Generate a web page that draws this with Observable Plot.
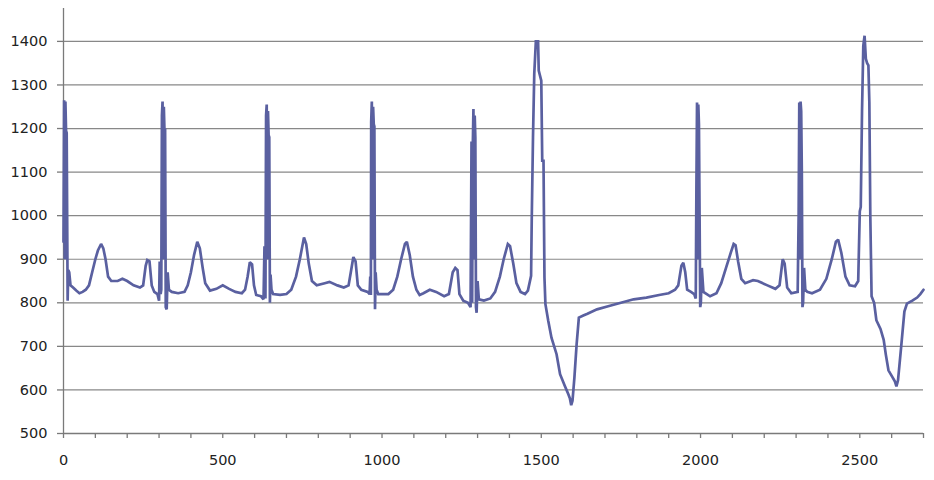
<!DOCTYPE html>
<html>
<head>
<meta charset="utf-8">
<script src="https://cdn.jsdelivr.net/npm/d3@7"></script>
<script src="https://cdn.jsdelivr.net/npm/@observablehq/plot@0.6"></script>
<style>
  html, body { margin: 0; padding: 0; background: #fff; }
  #chart svg { display: block; }
</style>
</head>
<body>
<div id="chart"></div>
<script>
// Sample index (x) and signal value (y)
const sampleX = [
  0, 2, 4, 6, 8, 10, 13, 15, 18, 22, 30, 40, 50, 60, 70, 80, 90, 100, 108, 118, 125, 132, 140, 150, 170, 185, 200, 220, 240, 250, 258, 263, 270, 277, 285, 295,
  300, 302, 305, 307, 309, 311, 313, 315, 317, 319, 321, 324, 327, 331, 340, 360, 380, 390, 400, 410, 420, 428, 437, 445, 460, 480, 500, 520, 540, 560, 570, 578, 585, 592, 598, 605, 620,
  628, 631, 634, 636, 638, 640, 642, 644, 646, 648, 650, 653, 658, 680, 700, 715, 730, 742, 755, 762, 770, 780, 795, 820, 835, 860, 880, 895, 902, 910, 917, 924, 935, 955,
  961, 963, 965, 966, 968, 970, 972, 974, 976, 978, 980, 983, 988, 1000, 1020, 1035, 1048, 1060, 1072, 1078, 1087, 1097, 1108, 1118, 1130, 1150, 1170, 1195, 1210, 1222, 1230, 1237, 1243, 1255, 1270,
  1278, 1281, 1283, 1285, 1287, 1289, 1291, 1293, 1295, 1297, 1300, 1304, 1320, 1340, 1355, 1370, 1382, 1395, 1402, 1412, 1422, 1435, 1449, 1458,
  1468, 1470, 1474, 1478, 1483, 1490, 1492, 1500, 1503, 1507, 1510, 1513, 1522, 1532, 1548, 1559, 1574, 1585, 1590, 1594, 1598, 1604, 1611, 1618, 1632,
  1645, 1675, 1710, 1750, 1790, 1830, 1870, 1900, 1920, 1930, 1940, 1946, 1952, 1958, 1970, 1980,
  1985, 1987, 1989, 1991, 1993, 1995, 1997, 1999, 2001, 2004, 2009, 2030, 2050, 2065, 2080, 2095, 2104, 2110, 2118, 2128, 2140, 2165, 2180, 2210, 2235, 2248, 2258, 2264, 2272, 2285,
  2305, 2308, 2310, 2312, 2314, 2316, 2318, 2320, 2322, 2325, 2329, 2335, 2350, 2375, 2395, 2412, 2425, 2432, 2442, 2455, 2468, 2485, 2495,
  2500, 2503, 2507, 2511, 2515, 2519, 2523, 2527, 2530, 2533, 2537, 2545, 2552, 2565, 2575, 2582, 2590, 2602, 2610, 2615, 2620, 2630, 2640, 2648, 2665, 2680, 2690, 2700
];
const sampleY = [
  940, 1265, 900, 1262, 1195, 1190, 805, 875, 870, 840, 835, 828, 822, 825, 830, 840, 870, 900, 920, 935, 925, 900, 860, 850, 850, 855, 850, 840, 835, 840, 885, 898, 895, 840, 825, 820,
  805, 895, 820, 830, 1230, 1262, 900, 1250, 1195, 1200, 790, 785, 870, 830, 825, 822, 825, 840, 870, 910, 940, 925, 880, 845, 828, 832, 840, 832, 825, 822, 830, 860, 893, 888, 840, 818, 815,
  808, 930, 810, 1230, 1255, 900, 1240, 1185, 1180, 800, 865, 830, 820, 818, 820, 830, 860, 900, 950, 935, 890, 850, 840, 845, 848, 840, 835, 840, 870, 905, 895, 840, 830, 825,
  820, 860, 818, 1215, 1262, 900, 1250, 1210, 1205, 785, 870, 830, 820, 820, 820, 830, 860, 900, 935, 940, 910, 860, 830, 818, 822, 830, 825, 815, 820, 870, 880, 875, 820, 805, 800,
  790, 1170, 800, 1160, 1245, 900, 1230, 1180, 790, 777, 850, 808, 805, 810, 825, 860, 900, 935, 930, 890, 845, 825, 820, 828,
  862, 988, 1180, 1326, 1400, 1400, 1333, 1310, 1126, 1126, 858, 797, 758, 720, 682, 636, 609, 590, 580, 565, 575, 628, 705, 766, 771,
  775, 785, 792, 800, 808, 812, 818, 822, 830, 840, 885, 892, 870, 830, 825, 820,
  810, 1060, 1260, 900, 1255, 1210, 1000, 790, 800, 880, 825, 815, 822, 845, 880, 915, 935, 932, 895, 855, 845, 852, 850, 840, 832, 840, 900, 890, 835, 822,
  825, 1000, 1260, 900, 1262, 1240, 1100, 790, 800, 880, 830, 825, 822, 830, 855, 900, 940, 945, 915, 860, 840, 838, 850,
  1010, 1020, 1240, 1390, 1413, 1360, 1350, 1345, 1260, 1000, 815, 800, 760, 740, 715, 680, 645, 630, 620, 608, 622, 700, 780, 798, 805, 812, 820, 830
];
const yTicks = [500, 600, 700, 800, 900, 1000, 1100, 1200, 1300, 1400];
const xLabels = [0, 500, 1000, 1500, 2000, 2500];
const xMinorTicks = d3.range(0, 2701, 100);

const data = sampleX.map((x, i) => ({x, y: sampleY[i]}));
const font = "DejaVu Sans, Verdana, sans-serif";

const chart = Plot.plot({
  width: 934,
  height: 480,
  marginLeft: 63,
  marginRight: 11,
  marginTop: 8,
  marginBottom: 47,
  style: {fontFamily: font, background: "#fff"},
  x: {domain: [0, 2700], label: null},
  y: {domain: [500, 1475.5], label: null},
  marks: [
    Plot.ruleY(yTicks.slice(1), {y: d => d, stroke: "#888888", strokeWidth: 1.2}),
    Plot.ruleY([500], {y: d => d, stroke: "#7a7a7a", strokeWidth: 1.3}),
    Plot.ruleX([0], {x: d => d, stroke: "#7a7a7a", strokeWidth: 1.3}),
    Plot.axisY({ticks: yTicks, tickSize: 6, tickFormat: () => "", stroke: "#7a7a7a", strokeWidth: 1.3, strokeOpacity: 1}),
    Plot.axisX({ticks: xMinorTicks, tickSize: 5, tickFormat: () => "", stroke: "#7a7a7a", strokeWidth: 1.3, strokeOpacity: 1}),
    Plot.text(yTicks, {x: 0, y: d => d, text: d => String(d), dx: -16, textAnchor: "end", fontSize: 14.5, fill: "#222", clip: false}),
    Plot.text(xLabels, {x: d => d, y: 500, text: d => String(d), dy: 27, textAnchor: "middle", fontSize: 14.5, fill: "#222", clip: false}),
    Plot.line(data, {x: "x", y: "y", stroke: "#5a60a0", strokeWidth: 2.7, strokeLinejoin: "miter", strokeMiterlimit: 2})
  ]
});
document.getElementById("chart").append(chart);
</script>
</body>
</html>
